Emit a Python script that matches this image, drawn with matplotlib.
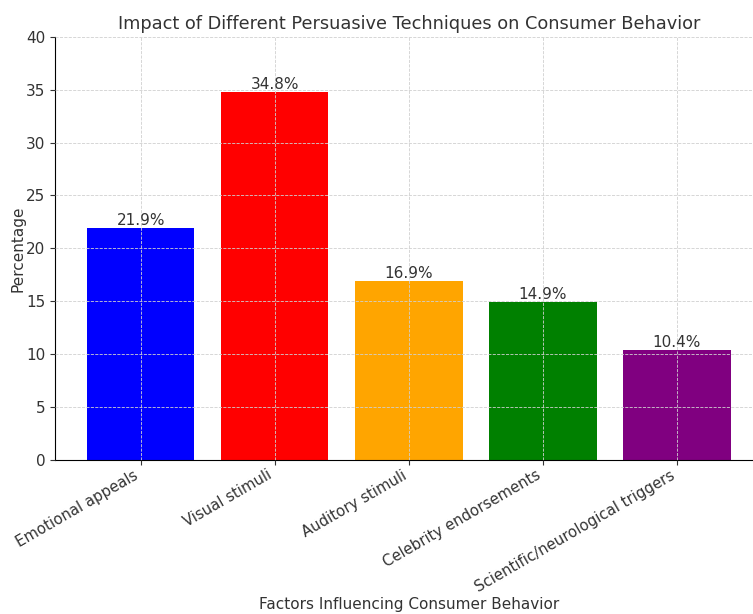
import matplotlib
matplotlib.use("Agg")
import matplotlib.pyplot as plt

# data
factors = ['Emotional appeals', 'Visual stimuli', 'Auditory stimuli',
           'Celebrity endorsements', 'Scientific/neurological triggers']
percentages = [21.9, 34.8, 16.9, 14.9, 10.4]
bar_colors = ['blue', 'red', 'orange', 'green', 'purple']
yticks = [0, 5, 10, 15, 20, 25, 30, 35, 40]

text_color = '#333333'
plt.rcParams['text.color'] = text_color
plt.rcParams['axes.labelcolor'] = text_color
plt.rcParams['xtick.color'] = text_color
plt.rcParams['ytick.color'] = text_color

fig = plt.figure(figsize=(7.53, 6.14), dpi=100)
ax = fig.add_axes([0.073, 0.251, 0.940, 0.689])

bars = ax.bar(factors, percentages, color=bar_colors, width=0.8)
for bar, val in zip(bars, percentages):
    ax.text(bar.get_x() + bar.get_width() / 2, bar.get_height(), f'{val}%',
            ha='center', va='bottom', fontsize=11)

ax.set_ylim(0, 40)
ax.set_yticks(yticks)
ax.set_xlim(-0.64, 4.64)
ax.grid(True, linestyle='--', color='#d0d0d0', linewidth=0.6)
ax.set_axisbelow(False)
ax.spines['top'].set_visible(False)
ax.spines['right'].set_visible(False)
ax.tick_params(axis='y', labelsize=11)
ax.tick_params(axis='x', labelsize=10.7, pad=2)
plt.setp(ax.get_xticklabels(), rotation=30, ha='right', rotation_mode='default')

ax.set_title('Impact of Different Persuasive Techniques on Consumer Behavior', fontsize=12.8)
ax.set_xlabel('Factors Influencing Consumer Behavior', fontsize=11)
ax.xaxis.set_label_coords(0.5, -0.325)
ax.set_ylabel('Percentage', fontsize=11)
ax.yaxis.set_label_coords(-0.042, 0.5)

fig.savefig('out.png', dpi=100)
